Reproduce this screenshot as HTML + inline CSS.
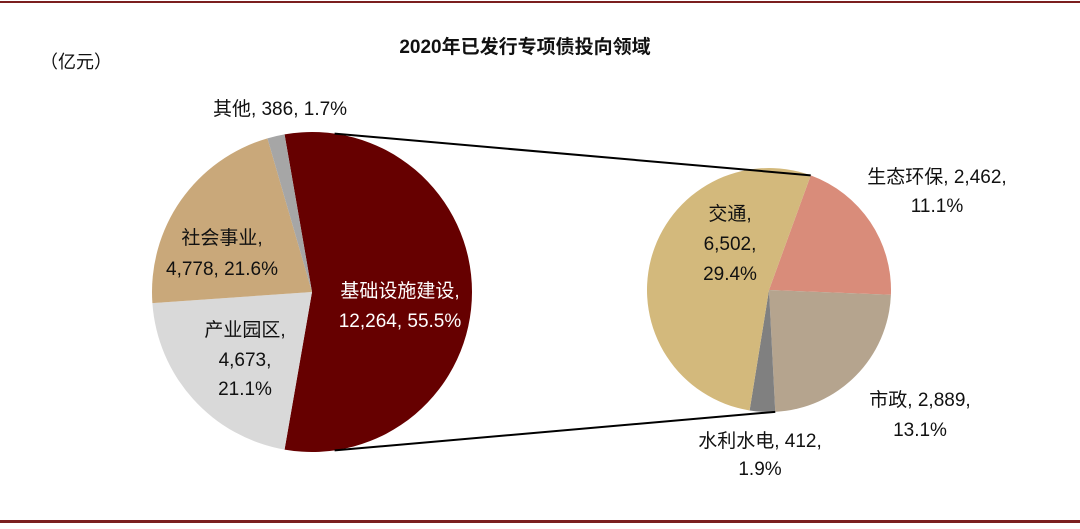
<!DOCTYPE html>
<html><head><meta charset="utf-8"><style>
body{margin:0;background:#fff;}
svg text{font-family:"Liberation Sans","Noto Sans CJK SC",sans-serif;fill:#111;}
</style></head><body>
<svg id="c" width="1080" height="524" xmlns="http://www.w3.org/2000/svg">
<rect x="0" y="1" width="1080" height="2" fill="#7b1f1f"/>
<rect x="0" y="520" width="1080" height="3" fill="#7b1f1f"/>
<text x="525" y="53" text-anchor="middle" font-size="19" font-weight="bold">2020年已发行专项债投向领域</text>
<text x="40" y="68" font-size="18">（亿元）</text>
<g id="left"></g><g id="right"></g><g id="labels"></g>
</svg>
<script>
const leftCats=["基础设施建设","产业园区","社会事业","其他"];
const leftVals=[12264,4673,4778,386];
const leftPcts=["55.5%","21.1%","21.6%","1.7%"];
const rightCats=["生态环保","市政","水利水电","交通"];
const rightVals=[2462,2889,412,6502];
const rightPcts=["11.1%","13.1%","1.9%","29.4%"];
const NS="http://www.w3.org/2000/svg";
const leftColors=["#660000","#d9d9d9","#c9a87a","#a6a6a6"];
const rightColors=["#d98c7a","#b5a48e","#808080","#d3b97c"];
function pt(cx,cy,r,a){return [cx+r*Math.sin(a*Math.PI/180),cy-r*Math.cos(a*Math.PI/180)];}
function drawPie(g,cx,cy,r,vals,start,colors,cats,dir){
  const tot=vals.reduce((a,b)=>a+b,0);let a=start;const pts=[];
  vals.forEach((v,i)=>{const sw=v/tot*360;const a2=a+dir*sw;
    const p1=pt(cx,cy,r,a),p2=pt(cx,cy,r,a2);
    const path=document.createElementNS(NS,"path");
    path.setAttribute("d",`M${cx},${cy}L${p1[0]},${p1[1]}A${r},${r} 0 ${sw>180?1:0} ${dir>0?1:0} ${p2[0]},${p2[1]}Z`);
    path.setAttribute("fill",colors[i]);
    
    
    g.appendChild(path);pts.push([a,a2]);a=a2;});
  return pts;
}
const lt=leftVals[0]/leftVals.reduce((a,b)=>a+b,0)*360;
const lp=drawPie(document.getElementById("left"),312,292,160,leftVals,90-lt/2,leftColors,leftCats,1);
const rp=drawPie(document.getElementById("right"),769,290,122,rightVals,20,rightColors,rightCats,1);
const svg=document.getElementById("c");
function line(p,q,n){const l=document.createElementNS(NS,"line");l.setAttribute("x1",p[0]);l.setAttribute("y1",p[1]);l.setAttribute("x2",q[0]);l.setAttribute("y2",q[1]);l.setAttribute("stroke","#000");l.setAttribute("stroke-width","2");


svg.appendChild(l);}
line(pt(312,292,160,lp[0][0]+18),pt(769,290,122,rp[0][0]),"connector-top");
line(pt(312,292,160,lp[0][1]-18),pt(769,290,122,rp[1][1]),"connector-bottom");
function fmt(v){return v.toLocaleString("en-US");}
const lab=document.getElementById("labels");
function label(x,ys,lines,fill,n){lines.forEach((s,i)=>{const t=document.createElementNS(NS,"text");t.setAttribute("x",x);t.setAttribute("y",ys[i]);t.setAttribute("text-anchor","middle");t.setAttribute("font-size","19");if(fill)t.style.fill=fill;t.textContent=s;


lab.appendChild(t);});}
label(280,[115],[leftCats[3]+", "+fmt(leftVals[3])+", "+leftPcts[3]],null,"label-other");
label(222,[244,275],[leftCats[2]+",",fmt(leftVals[2])+", "+leftPcts[2]],null,"label-social");
label(245,[336,366,395],[leftCats[1]+",",fmt(leftVals[1])+",",leftPcts[1]],null,"label-industrial");
label(400,[297,327],[leftCats[0]+",",fmt(leftVals[0])+", "+leftPcts[0]],"#fff","label-infrastructure");
label(730,[220,250,280],[rightCats[3]+",",fmt(rightVals[3])+",",rightPcts[3]],null,"label-transport");
label(937,[183,212],[rightCats[0]+", "+fmt(rightVals[0])+",",rightPcts[0]],null,"label-eco");
label(920,[406,436],[rightCats[1]+", "+fmt(rightVals[1])+",",rightPcts[1]],null,"label-municipal");
label(760,[447,475],[rightCats[2]+", "+fmt(rightVals[2])+",",rightPcts[2]],null,"label-water");
</script>
</body></html>
